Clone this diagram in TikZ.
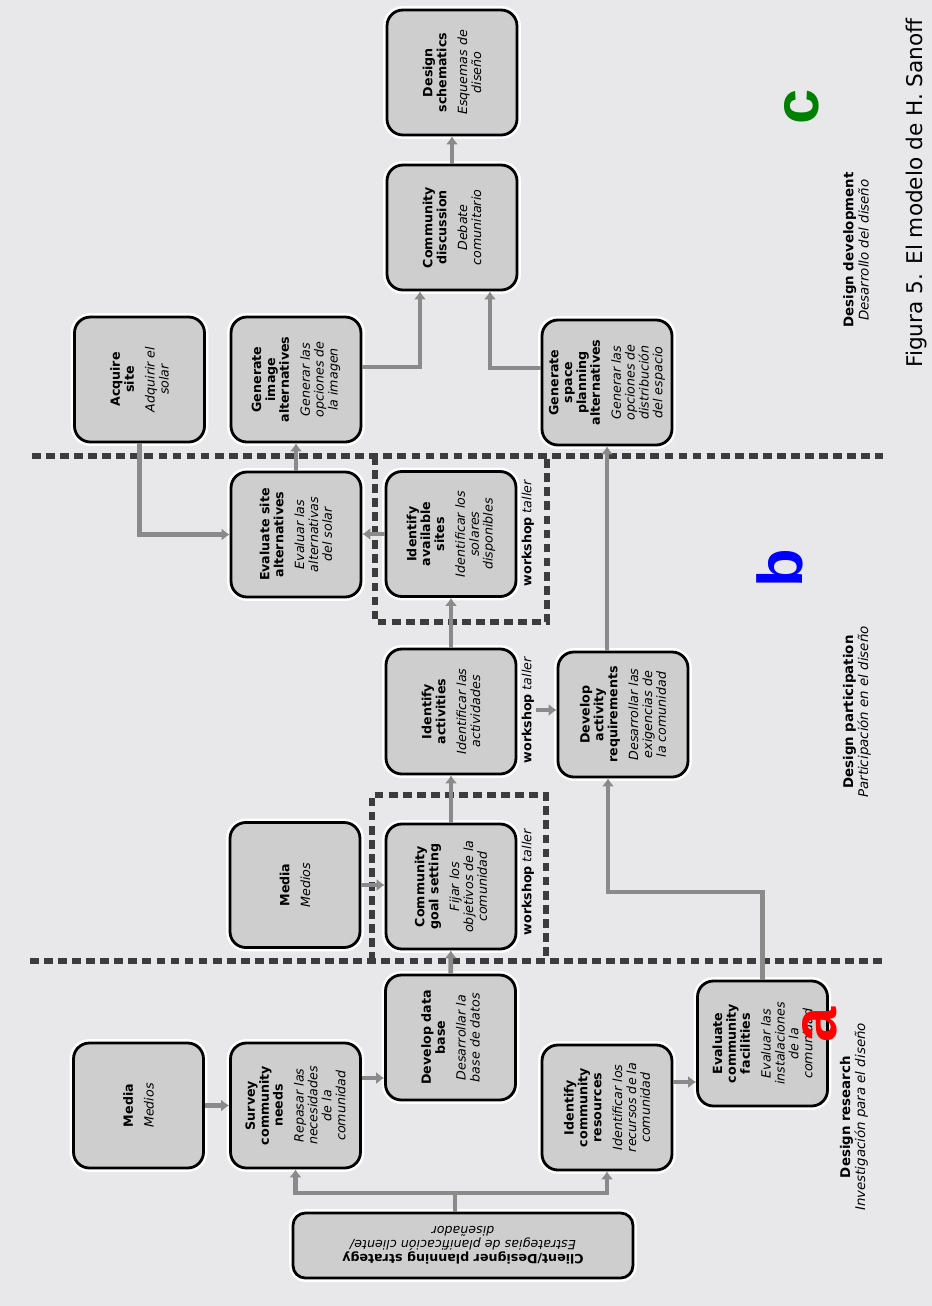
\documentclass[tikz,border=0pt]{standalone}
\usepackage{graphicx}
\usepackage{fontspec}
\setmainfont{DejaVu Sans}
\newfontfamily\lettfont{Liberation Sans}
\usepackage{tikz}
\usetikzlibrary{positioning,arrows.meta}
\definecolor{pagebg}{RGB}{232,232,234}
\definecolor{boxgray}{RGB}{206,206,206}
\definecolor{argray}{RGB}{138,138,138}
\definecolor{dashgray}{RGB}{60,60,60}
\tikzstyle{blk}=[draw, line width=1.6pt, rounded corners=9pt, fill=boxgray, minimum width=2.6cm, minimum height=2.5cm, inner sep=0pt, preaction={draw=white, line width=4.5pt}]
\tikzstyle{ar}=[argray, line width=2.6pt]
\tikzstyle{dsh}=[dashgray, line width=3.4pt, dash pattern=on 5pt off 3pt]
\tikzstyle{ws}=[rotate=90, inner sep=1pt, font=\fontsize{7.2}{8}\selectfont]
\tikzstyle{phase}=[rotate=90, align=center, font=\fontsize{7.6}{8.6}\selectfont]
\tikzstyle{lett}=[rotate=90, inner sep=0pt, font=\lettfont\bfseries\fontsize{36}{36}\selectfont]
% english / spanish text, turned a quarter
\newcommand{\bx}[2]{\rotatebox{90}{\parbox{2.4cm}{\centering\fontsize{7.2}{7.9}\selectfont\bfseries #1\par\vspace{4pt}\mdseries\itshape #2}}}

\begin{document}
\begin{tikzpicture}[x=0.02cm, y=-0.02cm, >={Latex[length=4.5pt,width=7pt]}]
\useasboundingbox (0,0) rectangle (932,1306);
\fill[pagebg] (0,0) rectangle (932,1306);

% phase borders and workshops
\draw[dsh] (30,961) -- (883,961);
\draw[dsh] (372,961) |- (546,795) -- (546,961);
\draw[dsh] (32,456) -- (883,456);
\draw[dsh] (375,456) -- (375,622) -| (547,456);

% boxes
\node[blk] (med1) at (138.5,1105.5) {\bx{Media}{Medios}};
\node[blk] (srv) at (295.5,1105.5) {\bx{Survey\\community\\needs}{Repasar las\\necesidades\\de la\\comunidad}};
\node[blk] (ddb) at (450.5,1037.5) {\bx{Develop data\\base}{Desarrollar la\\base de datos}};
\node[blk] (icr) at (607,1107.5) {\bx{Identify\\community\\resources}{Identificar los\\recursos de la\\comunidad}};
\node[blk] (ecf) at (762.5,1043.5) {\bx{Evaluate\\community\\facilities}{Evaluar las\\instalaciones\\de la\\comunidad}};
\node[blk] (med2) at (295,885) {\bx{Media}{Medios}};
\node[blk] (cgs) at (451,886.5) {\bx{Community\\goal setting}{Fijar los\\objetivos de la\\comunidad}};
\node[blk] (iac) at (451,711.5) {\bx{Identify\\activities}{Identificar las\\actividades}};
\node[blk] (dar) at (623,714.5) {\bx{Develop\\activity\\requirements}{Desarrollar las\\exigencias de\\la comunidad}};
\node[blk] (ias) at (451,534) {\bx{Identify\\available\\sites}{Identificar los\\solares\\disponibles}};
\node[blk] (esa) at (296,534.5) {\bx{Evaluate site\\alternatives}{Evaluar las\\alternativas\\del solar}};
\node[blk] (acq) at (139.5,379.5) {\bx{Acquire\\site}{Adquirir el\\solar}};
\node[blk] (gia) at (296,379.5) {\bx{Generate\\image\\alternatives}{Generar las\\opciones de\\la imagen}};
\node[blk] (gsp) at (607,382.5) {\bx{Generate\\space\\planning\\alternatives}{Generar las\\opciones de\\distribución\\del espacio}};
\node[blk] (cdi) at (452,227.5) {\bx{Community\\discussion}{Debate\\comunitario}};
\node[blk] (dsc) at (452,72.5) {\bx{Design\\schematics}{Esquemas de\\diseño}};
\node[blk, minimum width=6.8cm, minimum height=1.3cm, rounded corners=7pt] (cli) at (463,1245.5) {\rotatebox{180}{\parbox{6cm}{\centering\fontsize{7.2}{7.9}\selectfont\bfseries Client/Designer planning strategy\par\mdseries\itshape Estrategias de planificación cliente/\\diseñador}}};

% workshop labels
\node[ws] (ws1) at (528,882) {\textbf{workshop} \textit{taller}};
\node[ws] (ws2) at (528,710) {\textbf{workshop} \textit{taller}};
\node[ws] (ws3) at (528,533) {\textbf{workshop} \textit{taller}};

% arrows
\coordinate (fork) at (455,1193);
\coordinate (bend) at (608,892);
\draw[ar, ->] (fork |- cli.north) -- (fork) -| (srv.south);
\draw[ar, ->] (fork) -| (icr.south);
\draw[ar, ->] (med1) -- (srv);
\draw[ar, ->] ([yshift=5.5mm]srv.east) coordinate (s1) -- (s1 -| ddb.west);
\draw[ar, ->] ([yshift=5.1mm]icr.east) coordinate (s2) -- (s2 -| ecf.west);
\draw[ar, ->] (ecf.north) |- (bend) -- (bend |- dar.south);
\draw[ar, ->] (ddb) -- (cgs);
\draw[ar, ->] (med2.east) -- (med2.east -| cgs.west);
\draw[ar, ->] (cgs) -- (iac);
\draw[ar, ->] (iac) -- (ias);
\draw[ar, ->] (ws2.south) -- (ws2.south -| dar.west);
\draw[ar, ->] (gsp.south |- dar.north) -- (gsp.south);
\draw[ar, ->] (ias.west) -- (ias.west -| esa.east);
\draw[ar, ->] (acq.south) |- (esa.west);
\draw[ar, ->] (esa) -- (gia);
\draw[ar, ->] ([yshift=2.5mm]gia.east) -| ([xshift=-6.4mm]cdi.south);
\draw[ar, ->] ([yshift=2.9mm]gsp.west) -| ([xshift=7.6mm]cdi.south);
\draw[ar, ->] (cdi) -- (dsc);

% phases and caption
\node[phase] (phr) at (854,1117) {\textbf{Design research}\\\textit{Investigación para el diseño}};
\node[phase] (php) at (857,712) {\textbf{Design participation}\\\textit{Participación en el diseño}};
\node[phase] (phd) at (856,250) {\textbf{Design development}\\\textit{Desarrollo del diseño}};
\node[rotate=90, font=\fontsize{12.3}{14}\selectfont] (cap) at (917,193) {Figura 5. El modelo de H. Sanoff};

\node[lett, text=red] (la) at (820,1025) {a};
\node[lett, text=blue] (lb) at (780,568) {b};
\node[lett, text=green!50!black] (lc) at (802,107) {c};
\end{tikzpicture}
\end{document}
